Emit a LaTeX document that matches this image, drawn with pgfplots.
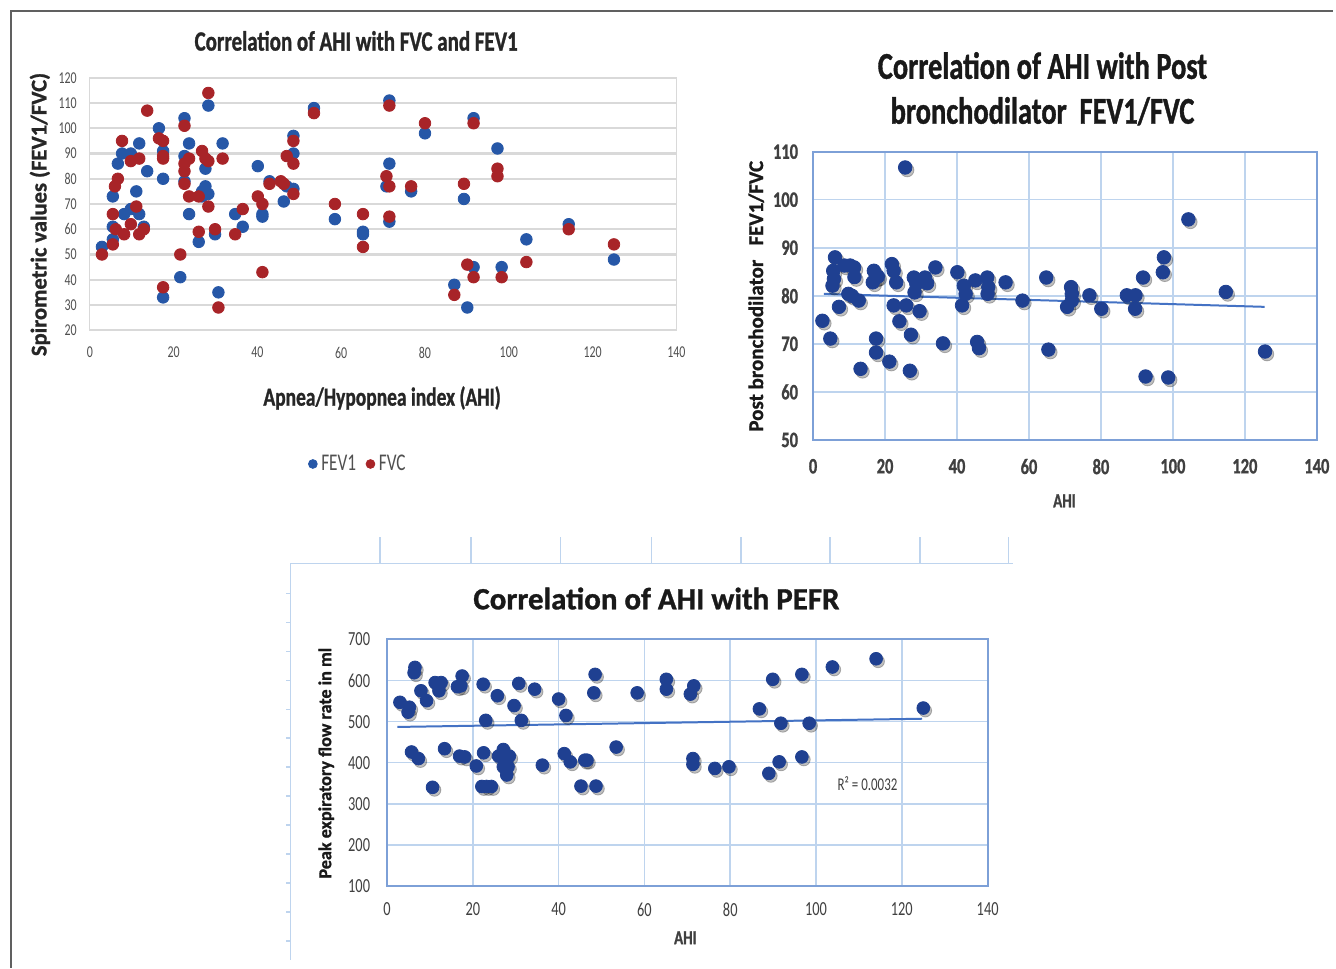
\documentclass[border=0pt]{standalone}
\usepackage{fontspec}
\setmainfont{Carlito}
\newfontfamily\cond{Carlito}[FakeStretch=0.72]
\newfontfamily\condb{Carlito Bold}[FakeStretch=0.75,FakeBold=1]
\newfontfamily\labb{Carlito Bold}[FakeBold=1]
\usepackage{pgfplots}
\usepackage{pgfplotstable}
\pgfplotsset{compat=1.18}
\definecolor{c1blue}{RGB}{38,87,167}
\definecolor{c1red}{RGB}{168,36,40}
\definecolor{c1grid}{RGB}{217,217,217}
\definecolor{c1tick}{RGB}{80,80,80}
\definecolor{c2mark}{RGB}{31,64,145}
\definecolor{c2grid}{RGB}{190,212,238}
\definecolor{c2axis}{RGB}{125,160,215}
\definecolor{c2trend}{RGB}{68,114,196}
\definecolor{c2tick}{RGB}{64,64,64}

% post bronchodilator FEV1/FVC against AHI
\pgfplotstableread{
ahi ratio
2.6 74.8
4.8 71.1
5.4 82.1
5.6 85.2
6.1 88.0
5.8 83.5
7.2 77.7
8.7 86.3
10.3 86.3
9.8 80.4
11.4 85.9
10.8 80.0
11.5 83.9
12.7 79.0
13.2 64.8
16.6 82.8
16.9 85.2
17.4 83.8
17.5 71.1
17.5 68.2
18.0 84.0
21.2 66.3
21.9 86.6
22.4 85.2
22.4 78.0
23.1 82.8
24.0 74.7
25.6 106.7
25.9 78.0
27.2 71.9
26.9 64.4
28.0 83.8
28.2 80.7
28.7 82.5
29.6 76.8
31.1 83.8
31.7 82.6
34.0 85.9
36.1 70.1
40.1 84.9
41.4 78.0
41.9 82.1
42.4 80.4
45.1 83.2
45.6 70.4
46.1 69.1
48.4 83.8
48.5 80.4
48.7 81.8
53.5 82.8
58.2 79.0
64.8 83.8
65.4 68.8
70.6 77.7
71.7 81.8
71.9 80.4
71.9 79.0
76.8 80.1
80.1 77.3
87.2 80.1
89.6 80.1
89.5 77.3
91.7 83.8
92.4 63.2
97.2 84.9
97.5 88.0
98.7 63.0
104.3 95.9
114.7 80.8
125.6 68.4
}\postbd

% PEFR against AHI
\pgfplotstableread{
ahi pefr
3.0 547
5.2 535
4.9 523
6.5 632
6.3 619
5.7 426
7.3 410
7.9 575
9.2 551
10.6 340
11.2 595
12.1 575
12.6 595
13.4 434
16.4 585
17.5 611
17.2 587
16.9 416
18.1 414
20.8 392
22.4 591
22.1 342
23.2 342
22.5 424
23.0 503
24.3 342
25.7 563
26.0 416
27.1 432
27.6 414
28.5 416
27.1 390
28.2 390
27.9 370
29.6 539
30.7 593
31.3 503
34.4 579
36.2 394
40.0 555
41.3 422
41.7 515
42.7 402
45.2 343
46.1 406
46.6 406
48.5 615
48.2 570
48.7 343
53.4 438
58.3 570
65.1 603
65.1 579
70.7 567
71.5 587
71.3 410
71.3 396
76.4 386
79.7 390
86.8 531
89.9 603
89.0 374
91.4 402
91.8 496
96.7 615
96.7 414
98.4 496
103.8 633
114.0 653
125.0 533
}\pefr

\begin{document}
\begin{tikzpicture}
% page and frame (1 px of the reference = 0.5pt)
\path[fill=white] (0,0) rectangle (668pt,485pt);
\draw[gray!75!black,line width=1pt] (5.5pt,0pt) -- (5.5pt,479.5pt) -- (668pt,479.5pt);

% leftover box edges round the PEFR chart
\draw[c2grid,line width=0.8pt] (145.5pt,4pt) -- (145.5pt,202.5pt) -- (507.5pt,202.5pt);
\foreach \px in {381,472,562,653,743,832,922,1011}
  \draw[c2grid,line width=0.8pt] ({\px*0.5pt},202.5pt) -- ({\px*0.5pt},216pt);
\foreach \py in {595,624,...,943}
  \draw[c2grid,line width=0.8pt] (143.5pt,{(970-\py)*0.5pt}) -- (145.5pt,{(970-\py)*0.5pt});

% ---------- chart 1: FEV1 and FVC ----------
\begin{axis}[at={(45pt,319.5pt)},anchor=south west,scale only axis,
  width=294pt,height=126.5pt,
  xmin=0,xmax=140,ymin=20,ymax=120,
  xtick={0,20,...,140},ytick={20,30,...,120},
  ymajorgrids,major grid style={c1grid,line width=1.2pt},
  axis line style={c1grid},major tick length=0pt,
  tick label style={font=\cond\fontsize{8.3}{9}\selectfont,text=c1tick},
  xticklabel style={yshift=-5pt},yticklabel style={xshift=-3pt},
  /pgf/number format/assume math mode=true,
  legend style={at={(0.459,-0.53)},anchor=center,draw=none,legend columns=2,
    font=\cond\fontsize{12}{14}\selectfont,text=c1tick,
    /tikz/every even column/.append style={column sep=3pt}},
  legend image post style={mark size=2.2pt}]
\addplot[only marks,mark=*,mark size=2.9pt,c1blue] coordinates {
(2.9,53) (5.5,73) (5.5,61) (5.5,56) (6.7,86) (7.7,90) (8.2,66) (9.8,90) (9.8,68)
(11.1,75) (11.8,94) (11.8,66) (12.9,61) (13.7,83) (16.5,100) (17.5,80) (17.5,33)
(17.5,91) (21.6,41) (22.6,104) (22.6,89) (22.6,79) (23.7,94) (23.7,66) (26.0,55)
(26.8,75) (26.8,73) (27.6,77) (27.6,84) (28.3,109) (28.3,74) (29.9,58) (30.7,35)
(31.7,94) (34.7,66) (36.5,61) (40.1,85) (41.2,66) (41.2,65) (42.9,79) (46.3,71)
(47.0,77) (48.6,97) (48.6,90) (48.6,76) (53.5,108) (58.5,64) (65.2,58) (65.2,59)
(70.8,77) (71.5,111) (71.5,86) (71.5,63) (76.7,75) (80.0,98) (87.0,38) (89.3,72)
(90.1,29) (91.6,104) (91.6,45) (97.3,92) (98.3,45) (104.2,56) (114.3,62) (125.1,48)};
\addlegendentry{FEV1}
\addplot[only marks,mark=*,mark size=2.9pt,c1red] coordinates {
(2.9,50) (5.5,66) (5.5,54) (6.0,77) (6.7,80) (6.2,60) (7.7,95) (8.2,58) (9.8,87)
(9.8,62) (11.1,69) (11.8,88) (11.8,58) (12.9,60) (13.7,107) (16.5,96) (17.5,95)
(17.5,88) (17.5,89) (17.5,37) (21.6,50) (22.6,101) (22.6,86) (22.6,83) (22.6,78)
(23.7,88) (23.7,73) (26.0,59) (26.0,73) (26.8,91) (27.6,88) (28.3,114) (28.3,87)
(28.3,69) (29.9,60) (30.7,29) (31.7,88) (34.7,58) (36.5,68) (40.1,73) (41.2,70)
(41.2,43) (42.9,78) (45.6,79) (46.3,78) (47.0,89) (48.6,95) (48.6,86) (48.6,74)
(53.5,106) (58.5,70) (65.2,66) (65.2,53) (70.8,81) (71.5,109) (71.5,77) (71.5,65)
(76.7,77) (80.0,102) (87.0,34) (89.3,78) (90.1,46) (91.6,102) (91.6,41) (97.3,84)
(97.3,81) (98.3,41) (104.2,47) (114.3,60) (125.1,54)};
\addlegendentry{FVC}
\end{axis}
\node[text=black!85,font=\condb\fontsize{14}{16}\selectfont] at (178.5pt,464.5pt) {Correlation of AHI with FVC and FEV1};
\node[text=black!85,font=\condb\fontsize{13}{15}\selectfont] at (191.5pt,285.5pt) {Apnea/Hypopnea index (AHI)};
\node[rotate=90,text=black!85,font=\labb\fontsize{11.3}{13}\selectfont] at (20pt,377.5pt) {Spirometric values (FEV1/FVC)};

% ---------- chart 2: post bronchodilator FEV1/FVC ----------
\begin{axis}[at={(407.5pt,264.5pt)},anchor=south west,scale only axis,
  width=252.5pt,height=144.5pt,
  xmin=0,xmax=140,ymin=50,ymax=110,
  xtick={0,20,...,140},ytick={50,60,...,110},
  grid=major,major grid style={c2grid,line width=0.8pt},
  axis line style={c2axis,line width=1pt},major tick length=0pt,
  tick label style={font=\condb\fontsize{11}{12}\selectfont,text=c2tick},
  xticklabel style={yshift=-6pt},yticklabel style={xshift=-4pt},
  /pgf/number format/assume math mode=true,clip=false]
\addplot[only marks,mark=*,mark size=3.4pt,black,opacity=0.25,
  mark options={xshift=1pt,yshift=-1.3pt}] table[x=ahi,y=ratio] {\postbd};
\addplot[only marks,mark=*,mark size=3.4pt,c2mark] table[x=ahi,y=ratio] {\postbd};
\addplot[c2trend,line width=1pt] coordinates {(3,80.4) (125.5,77.7)};
\end{axis}
\node[align=center,text=black!90,font=\condb\fontsize{19}{22.5}\selectfont] at (522.5pt,440.5pt) {Correlation of AHI with Post\\ bronchodilator\ \ FEV1/FVC};
\node[rotate=90,text=black!90,font=\labb\fontsize{10.5}{12}\selectfont] at (379pt,336.5pt) {Post bronchodilator\ \ \ FEV1/FVC};
\node[text=c2tick,font=\condb\fontsize{10}{12}\selectfont] at (533.5pt,234pt) {AHI};

% ---------- chart 3: PEFR ----------
\begin{axis}[at={(194pt,41pt)},anchor=south west,scale only axis,
  width=301pt,height=123.5pt,
  xmin=0,xmax=140,ymin=100,ymax=700,
  xtick={0,20,...,140},ytick={100,200,...,700},
  grid=major,major grid style={c2grid,line width=0.8pt},
  axis line style={c2axis,line width=1pt},major tick length=0pt,
  tick label style={font=\cond\fontsize{10}{12}\selectfont,text=c2tick},
  xticklabel style={yshift=-5pt},yticklabel style={xshift=-5pt},
  /pgf/number format/assume math mode=true,clip=false]
\addplot[only marks,mark=*,mark size=3.2pt,black,opacity=0.25,
  mark options={xshift=1pt,yshift=-1.3pt}] table[x=ahi,y=pefr] {\pefr};
\addplot[only marks,mark=*,mark size=3.2pt,c2mark] table[x=ahi,y=pefr] {\pefr};
\addplot[c2trend,line width=1pt] coordinates {(2.4,487) (124.7,507)};
\node[text=c2tick,font=\cond\fontsize{9}{11}\selectfont] at (axis cs:112,348) {R² = 0.0032};
\end{axis}
\node[text=black!90,font=\labb\fontsize{15.5}{18}\selectfont] at (329pt,185pt) {Correlation of AHI with PEFR};
\node[rotate=90,text=black!90,font=\labb\fontsize{9.1}{11}\selectfont] at (163.5pt,102.5pt) {Peak expiratory flow rate in ml};
\node[text=c2tick,font=\condb\fontsize{10}{12}\selectfont] at (343.5pt,15pt) {AHI};
\end{tikzpicture}
\end{document}
